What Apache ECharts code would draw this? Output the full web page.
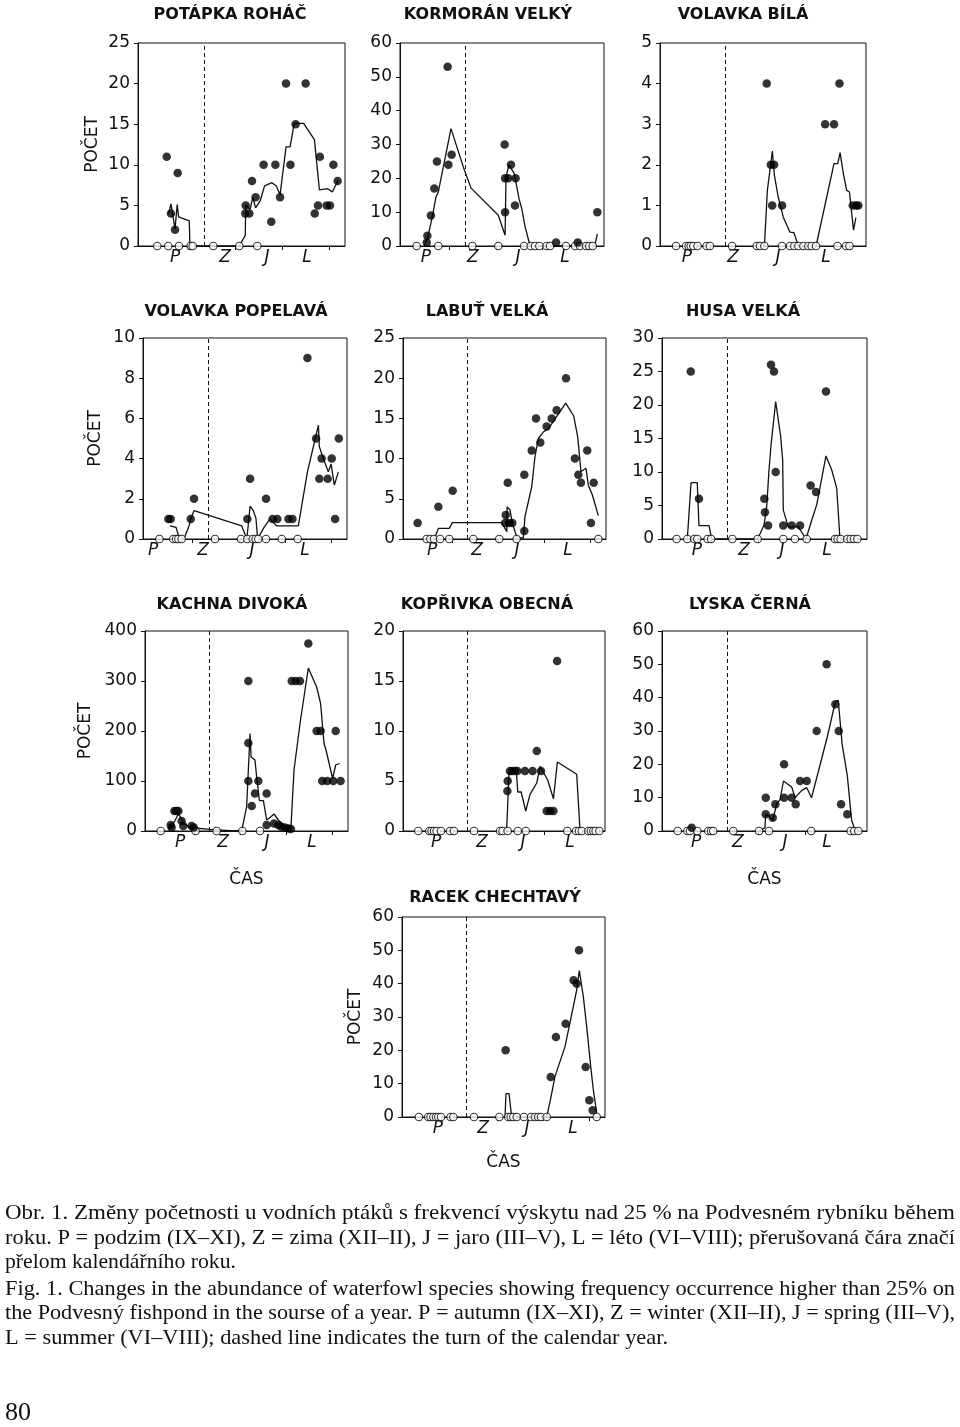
<!DOCTYPE html>
<html><head><meta charset="utf-8">
<script src="https://cdn.jsdelivr.net/npm/echarts@6/dist/echarts.min.js"></script>
<style>html,body{margin:0;padding:0;background:#fff}#c{width:960px;height:1427px}</style>
</head><body><div id="c"></div>
<script>
// ---------- DATA (x = months since 1 September; 4 = turn of calendar year) ----------
const seasonNames = ['P', 'Z', 'J', 'L'];
const yearTurn = 4;
const monthTicks = [3, 6, 9, 12];
const titles = ['POTÁPKA ROHÁČ','KORMORÁN VELKÝ','VOLAVKA BÍLÁ','VOLAVKA POPELAVÁ','LABUŤ VELKÁ','HUSA VELKÁ','KACHNA DIVOKÁ','KOPŘIVKA OBECNÁ','LYSKA ČERNÁ','RACEK CHECHTAVÝ'];
const yMaxes = [25, 60, 5, 10, 25, 30, 400, 20, 60, 60];
const ySteps = [5, 10, 1, 2, 5, 5, 100, 5, 10, 10];
const seasonLabelPos = [
  [2.16,5.35,8.03,10.58],[1.48,4.52,7.43,10.48],[1.53,4.48,7.36,10.44],
  [0.45,3.68,6.85,10.28],[1.69,4.61,7.21,10.53],[2.05,5.08,7.53,10.43],
  [2.08,4.87,7.73,10.66],[1.96,4.96,7.64,10.71],[1.99,4.69,7.72,10.43],
  [2.14,5.07,7.93,10.92]];

const potapkaDots = [[1.63,11],[2.33,9],[1.9,4],[2.16,2],[6.67,5],[6.64,4],[6.9,4],[7.07,8],[7.3,6],[7.81,10],[8.3,3],[8.56,10],[8.86,6],[9.24,20],[9.52,10],[9.85,15],[10.49,20],[11.07,4],[11.28,5],[11.4,11],[11.83,5],[12.04,5],[12.26,10],[12.53,8]];
const potapkaZeros = [1.03,1.73,2.41,3.16,3.29,4.6,6.26,7.41];
const potapkaLine = [[1.76,4],[1.9,5.2],[2.16,2.1],[2.3,5.1],[2.39,3.6],[3.07,3.1],[3.11,0],[6.26,0],[6.64,1.3],[6.67,5.1],[6.95,4.5],[7.12,6.0],[7.3,4.7],[7.6,5.6],[7.87,7.4],[8.34,7.8],[8.62,7.4],[8.86,6.3],[9.24,12.2],[9.5,12.2],[9.76,15.1],[10.36,15.1],[11.05,13.1],[11.37,6.9],[11.9,7.06],[12.2,6.65],[12.55,8.1]];

const kormoranDots = [[1.53,1],[1.57,3],[1.8,9],[2.02,17],[2.19,25],[2.88,53],[2.93,24],[3.14,27],[6.57,30],[6.6,20],[6.6,10],[6.81,20],[6.98,24],[7.24,12],[7.28,20],[9.9,1],[11.3,1],[12.57,10]];
const kormoranZeros = [0.88,2.28,4.48,6.16,7.83,8.26,8.54,8.82,9.29,9.51,10.54,11.13,11.45,11.84,12.05,12.27];
const kormoranLine = [[1.37,0.2],[1.59,2.5],[1.89,8.6],[2.13,14.5],[2.28,16],[3.1,34.7],[3.9,23.3],[4.4,17.1],[6.16,9.1],[6.6,3.2],[6.66,20.4],[6.85,24],[7.2,21.4],[7.5,14],[7.68,11],[7.9,5.6],[8.22,0],[12.4,0],[12.57,3.6]];

const bilaDots = [[6.64,4],[6.9,2],[7.11,2],[6.99,1],[7.62,1],[10.38,3],[10.95,3],[11.3,4],[12.15,1],[12.37,1],[12.51,1]];
const bilaZeros = [0.83,1.47,1.64,1.77,1.94,2.21,2.79,3.0,4.42,6.0,6.21,6.49,7.62,8.13,8.41,8.67,8.99,9.31,9.52,9.8,11.17,11.72,11.94];
const bilaLine = [[6.49,0],[6.68,1.37],[7.0,2.34],[7.13,1.74],[7.38,1.2],[7.7,0.71],[8.13,0.34],[8.38,0.33],[8.67,0],[9.8,0],[10.95,2.03],[11.19,2.03],[11.34,2.3],[11.55,1.78],[11.76,1.37],[11.94,1.33],[12.2,0.39],[12.35,0.7]];

const popelavaDots = [[1.44,1],[1.59,1],[2.89,1],[3.1,2],[6.55,1],[6.73,3],[7.76,2],[8.19,1],[8.49,1],[9.21,1],[9.47,1],[10.44,9],[11.0,5],[11.21,3],[11.36,4],[11.75,3],[12.01,4],[12.23,1],[12.47,5]];
const popelavaZeros = [0.86,1.76,1.94,2.09,2.3,4.46,6.14,6.55,6.9,7.09,7.26,7.76,8.78,9.81];
const popelavaLine = [[1.55,0.65],[1.94,0.58],[2.16,0],[2.45,0],[2.8,0.7],[2.89,1.0],[3.1,1.41],[6.19,0.65],[6.52,0],[6.73,1.64],[6.94,1.41],[7.11,1.02],[7.22,0],[7.59,0.53],[8.02,1.0],[8.45,0.65],[9.85,0.65],[10.44,3.34],[11.15,5.66],[11.21,4.59],[11.47,4.0],[11.79,3.34],[11.97,3.73],[12.18,2.68],[12.44,3.34]];

const labutDots = [[0.75,2],[2.1,4],[3.03,6],[6.48,3],[6.44,2],[6.61,7],[6.7,2],[6.91,2],[7.69,1],[7.69,8],[8.17,11],[8.45,15],[8.73,12],[9.14,14],[9.47,15],[9.79,16],[10.4,20],[10.98,10],[11.2,8],[11.37,7],[11.78,11],[12.02,2],[12.2,7]];
const labutZeros = [1.34,1.58,1.82,2.21,2.81,4.37,6.06,7.19,12.5];
const labutLine = [[1.84,0],[2.1,1.32],[2.81,1.32],[3.01,2.03],[6.22,2.03],[6.55,0.91],[6.57,4.0],[6.76,3.6],[6.91,1.95],[7.19,0.29],[7.62,0.08],[7.73,2.77],[8.17,6.5],[8.38,10.2],[8.6,12.5],[8.92,13.3],[9.25,13.7],[10.38,16.9],[10.9,15.3],[11.16,12.7],[11.37,8.4],[11.7,8.8],[11.85,6.7],[12.11,5.5],[12.5,2.9]];

const husaDots = [[1.65,25],[2.18,6],[6.39,6],[6.43,4],[6.63,2],[6.82,26],[7.01,25],[7.12,10],[7.61,2],[8.15,2],[8.69,2],[9.37,8],[9.72,7],[10.36,22]];
const husaZeros = [0.74,1.43,1.88,2.07,2.74,2.96,4.33,5.96,7.61,8.36,9.12,10.94,11.11,11.3,11.73,11.95,12.16,12.38];
const husaLine = [[1.43,0],[1.67,8.4],[2.07,8.4],[2.18,2],[2.83,2],[3.0,0],[5.96,0],[6.37,2.1],[6.54,4.8],[6.69,10.3],[6.82,14.0],[7.12,20.5],[7.44,15.3],[7.57,11.8],[7.61,4.3],[7.93,1.8],[8.58,1.8],[9.07,0],[9.44,2.8],[9.76,5.1],[10.36,12.4],[10.73,10.3],[11.05,7.6],[11.26,0]];

const kachnaDots = [[1.53,7],[1.47,12],[1.71,40],[1.84,40],[1.97,40],[2.18,20],[2.29,10],[2.83,10],[2.98,7],[6.52,300],[6.52,176],[6.52,100],[6.74,50],[6.95,75],[7.17,100],[7.71,75],[7.71,12],[8.19,15],[8.47,12],[8.64,9],[8.9,7],[9.12,5],[9.29,4],[9.34,300],[9.6,300],[9.88,300],[10.42,375],[10.96,200],[11.22,200],[11.32,100],[11.65,100],[12.04,100],[12.2,200],[12.52,100]];
const kachnaZeros = [0.82,3.09,4.46,6.13,7.28];
const kachnaLine = [[1.32,3.3],[1.71,18.6],[1.97,33.9],[2.12,27.3],[2.29,15.3],[2.72,7.3],[3.05,6],[4.03,3.3],[5.33,0.7],[6.09,0.7],[6.41,48.6],[6.63,195],[6.7,148],[6.95,142],[7.06,108],[7.24,60.6],[7.5,60.6],[7.71,22],[7.99,28.6],[8.19,34],[8.47,22],[8.79,12],[9.12,7.3],[9.29,7.3],[9.49,122],[9.88,215],[10.42,326],[10.96,288],[11.22,255],[11.44,175],[11.57,162],[12.0,105],[12.2,132],[12.46,135]];

const koprivkaDots = [[6.62,4],[6.64,5],[6.79,6],[6.94,6],[7.12,6],[7.27,6],[7.77,6],[8.27,6],[8.54,8],[8.82,6],[9.19,2],[9.41,2],[9.63,2],[9.87,17]];
const koprivkaZeros = [0.8,1.52,1.67,1.83,2.0,2.28,2.87,3.13,4.44,6.14,6.31,6.64,7.3,7.82,10.54,11.11,11.3,11.48,11.91,12.08,12.24,12.39,12.63];
const koprivkaLine = [[6.57,0],[6.73,5.9],[6.99,6.07],[7.21,5.9],[7.3,3.9],[7.52,3.9],[7.82,2.0],[8.1,3.67],[8.54,4.8],[8.76,6.47],[9.26,5.07],[9.63,3.23],[9.89,6.9],[11.15,5.67],[11.37,0]];

const lyskaDots = [[1.71,1],[6.48,10],[6.48,5],[6.93,4],[7.1,8],[7.66,20],[7.66,10],[8.15,10],[8.41,8],[8.69,15],[9.12,15],[9.76,30],[10.4,50],[10.96,38],[11.18,30],[11.33,8],[11.73,5]];
const lyskaZeros = [0.81,1.43,1.6,2.07,2.78,2.96,3.1,4.39,6.05,6.69,9.41,11.95,12.18,12.44];
const lyskaLine = [[6.05,0],[6.43,1],[6.48,5],[6.71,4.4],[6.93,3.2],[7.19,8.2],[7.4,9.4],[7.62,15],[8.15,13.2],[8.37,10],[8.8,12.2],[9.12,13],[9.43,10],[9.86,17.7],[10.44,28.2],[10.96,38.7],[11.15,39.2],[11.4,26],[11.73,16.7],[12.01,3.2],[12.23,0.2]];

const racekDots = [[6.54,20],[9.47,12],[9.81,24],[10.44,28],[10.96,41],[11.16,40],[11.31,50],[11.74,15],[11.98,5],[12.2,2]];
const racekZeros = [0.9,1.51,1.66,1.84,2.01,2.16,2.34,2.96,3.14,4.48,6.13,6.71,6.87,7.04,7.26,7.73,8.19,8.45,8.66,8.84,9.21,12.46];
const racekLine = [[6.5,0],[6.56,7],[6.76,7],[6.93,0],[9.21,0],[9.43,4.7],[9.75,12.2],[10.4,21.1],[10.94,33.1],[11.16,38.1],[11.33,43.9],[11.59,36.1],[11.81,27.1],[12.07,15.2],[12.24,8.2],[12.46,1.2]];

const captionLines = [
  'Obr. 1. Změny početnosti u vodních ptáků s frekvencí výskytu nad 25 % na Podvesném rybníku během',
  'roku. P = podzim (IX–XI), Z = zima (XII–II), J = jaro (III–V), L = léto (VI–VIII); přerušovaná čára značí',
  'přelom kalendářního roku.',
  'Fig. 1. Changes in the abundance of waterfowl species showing frequency occurrence higher than 25% on',
  'the Podvesný fishpond in the sourse of a year. P = autumn (IX–XI), Z = winter (XII–II), J = spring (III–V),',
  'L = summer (VI–VIII); dashed line indicates the turn of the calendar year.'
];
const pageNumber = '80';

// ---------- LAYOUT ----------
const dotsAll = [potapkaDots,kormoranDots,bilaDots,popelavaDots,labutDots,husaDots,kachnaDots,koprivkaDots,lyskaDots,racekDots];
const zerosAll = [potapkaZeros,kormoranZeros,bilaZeros,popelavaZeros,labutZeros,husaZeros,kachnaZeros,koprivkaZeros,lyskaZeros,racekZeros];
const linesAll = [potapkaLine,kormoranLine,bilaLine,popelavaLine,labutLine,husaLine,kachnaLine,koprivkaLine,lyskaLine,racekLine];

const layout = [
  {l:138,t:43,w:207,h:203,tx:230,ty:15,pocet:37},
  {l:400,t:43,w:204,h:203,tx:488,ty:15},
  {l:660,t:43,w:206,h:203,tx:743,ty:15},
  {l:143,t:338,w:204,h:201,tx:236,ty:312,pocet:39},
  {l:403,t:338,w:203,h:201,tx:487,ty:312},
  {l:662,t:338,w:205,h:201,tx:743,ty:312},
  {l:145,t:631,w:203,h:200,tx:232,ty:605,pocet:51,cas:40},
  {l:403,t:631,w:202,h:200,tx:487,ty:605},
  {l:662,t:631,w:205,h:200,tx:750,ty:605,cas:40},
  {l:402,t:917,w:203,h:200,tx:495,ty:898,pocet:38,cas:37}
];
const INK = '#111';
const FONT = 'DejaVu Sans';

const grid = [], xAxis = [], yAxis = [], series = [], graphic = [];
layout.forEach((p, i) => {
  grid.push({left:p.l, top:p.t, width:p.w, height:p.h, show:true, borderColor:INK, borderWidth:1,
    backgroundColor:'#fff', containLabel:false, outerBoundsMode:'none'});
  const sp = seasonLabelPos[i];
  xAxis.push({gridIndex:i, type:'value', min:-0.2, max:13,
    axisLine:{show:true, onZero:false, lineStyle:{color:INK, width:1}},
    splitLine:{show:false},
    axisTick:{show:true, customValues:monthTicks, length:4, inside:false, lineStyle:{color:INK}},
    axisLabel:{show:true, customValues:sp, margin:3, color:INK, fontSize:17, fontStyle:'italic', fontFamily:FONT,
      formatter:(v) => { const k = sp.findIndex(s => Math.abs(s - v) < 1e-6); return k >= 0 ? seasonNames[k] : ''; }},
    name: p.cas ? 'ČAS' : '', nameLocation:'middle', nameGap:p.cas || 30, nameMoveOverlap:false,
    nameTextStyle:{color:INK, fontSize:17, fontFamily:FONT}
  });
  yAxis.push({gridIndex:i, type:'value', min:0, max:yMaxes[i], interval:ySteps[i],
    axisLine:{show:true, onZero:false, lineStyle:{color:INK, width:1}},
    splitLine:{show:false},
    axisTick:{show:true, length:4, inside:false, lineStyle:{color:INK}},
    axisLabel:{margin:8, color:INK, fontSize:17, fontFamily:FONT},
    name: p.pocet ? 'POČET' : '', nameLocation:'middle', nameRotate:90, nameGap:p.pocet || 30, nameMoveOverlap:false,
    nameTextStyle:{color:INK, fontSize:17, fontFamily:FONT}
  });
  series.push({type:'line', xAxisIndex:i, yAxisIndex:i, data:linesAll[i], symbol:'none', clip:false,
    lineStyle:{color:INK, width:1.3}, z:2, silent:true,
    markLine:{silent:true, symbol:['none','none'], label:{show:false}, animation:false,
      lineStyle:{type:[4,3], color:INK, width:1}, data:[{xAxis:yearTurn}]}});
  series.push({type:'scatter', xAxisIndex:i, yAxisIndex:i, data:zerosAll[i].map(x => [x, 0]), symbol:'circle',
    symbolSize:7.5, clip:false, z:3, itemStyle:{color:'#fff', borderColor:'#000', borderWidth:1.1}});
  series.push({type:'scatter', xAxisIndex:i, yAxisIndex:i, data:dotsAll[i], symbol:'circle',
    symbolSize:8.5, clip:false, z:4, itemStyle:{color:'#000', borderWidth:0}});
  graphic.push({type:'text', x:p.tx, y:p.ty, silent:true,
    style:{text:titles[i], font:'bold 16px "' + FONT + '"', fill:INK,
      align:'center', textAlign:'center', verticalAlign:'middle', textVerticalAlign:'middle'}});
});

// caption lines (serif, justified by horizontal scaling)
const capFont = '22px "Liberation Serif"';
const meas = document.createElement('canvas').getContext('2d');
meas.font = capFont;
const capTargets = [950, 950, 231, 950, 950, 663];
const capY = [1213, 1238, 1262, 1289, 1313, 1338];
captionLines.forEach((t, k) => {
  const w = meas.measureText(t).width;
  graphic.push({type:'text', x:5, y:capY[k], scaleX:capTargets[k] / w, silent:true,
    style:{text:t, font:capFont, fill:INK, align:'left', textAlign:'left', verticalAlign:'middle', textVerticalAlign:'middle'}});
});
graphic.push({type:'text', x:5, y:1413, silent:true,
  style:{text:pageNumber, font:'26px "Liberation Serif"', fill:INK, align:'left', textAlign:'left', verticalAlign:'middle', textVerticalAlign:'middle'}});

const chart = echarts.init(document.getElementById('c'), null, {renderer:'canvas'});
chart.setOption({backgroundColor:'#fff', animation:false, grid, xAxis, yAxis, series, graphic});
</script></body></html>
